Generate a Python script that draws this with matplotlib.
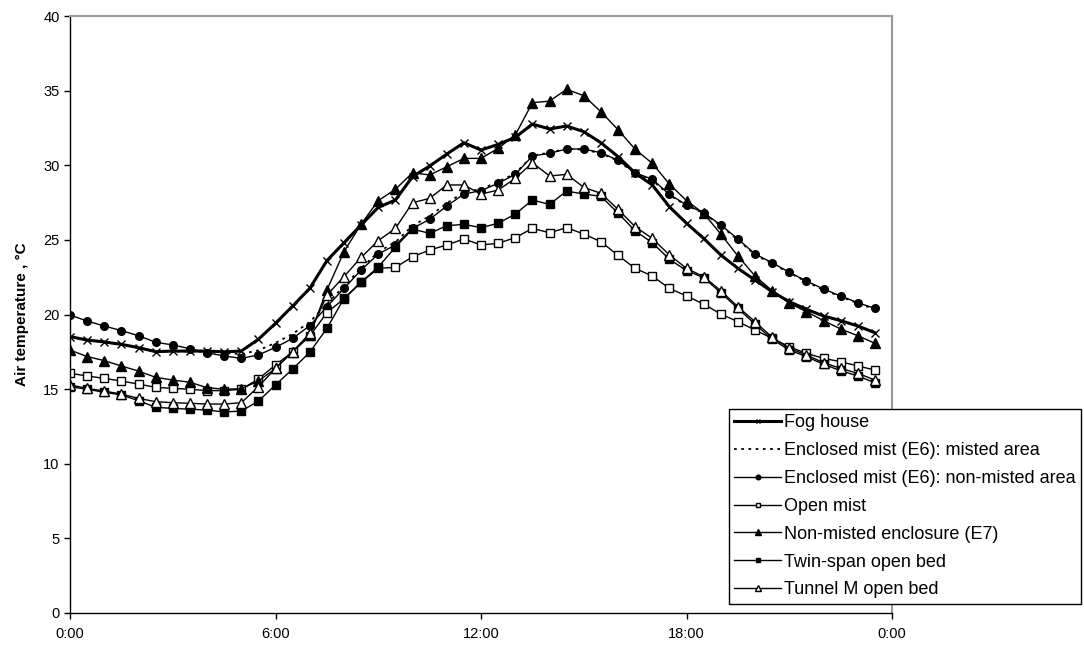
import numpy as np
import matplotlib
matplotlib.use("Agg")
import matplotlib.pyplot as plt

plt.rcParams['font.family'] = ['Liberation Sans', 'DejaVu Sans']

# half-hourly readings, 0:00 .. 23:30
hours = np.arange(0, 24, 0.5)

fog = [18.52, 18.29, 18.16, 18.0, 17.78, 17.51, 17.55, 17.55, 17.55, 17.5, 17.55, 18.34,
       19.41, 20.57, 21.75, 23.61, 24.81, 26.0, 27.18, 27.67, 29.24, 29.95, 30.75, 31.51,
       31.02, 31.4, 31.87, 32.76, 32.43, 32.63, 32.25, 31.51, 30.58, 29.48, 28.68, 27.22,
       26.11, 25.1, 23.99, 23.09, 22.31, 21.53, 20.86, 20.35, 19.9, 19.59, 19.23, 18.78]
e6_misted = [18.5, 18.3, 18.15, 17.98, 17.76, 17.52, 17.53, 17.53, 17.5, 17.42, 17.35, 17.6,
             18.1, 18.7, 19.5, 20.7, 21.9, 23.1, 24.2, 24.85, 25.95, 26.6, 27.45, 28.2,
             28.4, 28.9, 29.45, 30.65, 30.85, 31.1, 31.05, 30.8, 30.3, 29.45, 29.0, 28.0,
             27.3, 26.8, 25.95, 25.0, 24.0, 23.4, 22.8, 22.2, 21.65, 21.2, 20.75, 20.35]
e6_non_misted = [19.97, 19.56, 19.23, 18.92, 18.58, 18.14, 17.96, 17.71, 17.44, 17.22, 17.06, 17.29,
                 17.8, 18.4, 19.25, 20.52, 21.75, 22.98, 24.05, 24.66, 25.77, 26.38, 27.27, 28.07,
                 28.3, 28.79, 29.39, 30.62, 30.8, 31.09, 31.09, 30.84, 30.33, 29.5, 29.06, 28.05,
                 27.34, 26.82, 26.0, 25.06, 24.05, 23.47, 22.83, 22.24, 21.71, 21.24, 20.79, 20.41]
open_mist = [16.06, 15.88, 15.72, 15.54, 15.34, 15.12, 15.05, 14.99, 14.9, 14.9, 14.99, 15.68,
             16.62, 17.5, 18.55, 20.13, 21.05, 22.15, 23.1, 23.15, 23.87, 24.32, 24.66, 25.06,
             24.66, 24.77, 25.15, 25.77, 25.48, 25.82, 25.39, 24.88, 23.96, 23.09, 22.58, 21.75,
             21.24, 20.7, 20.03, 19.52, 18.96, 18.4, 17.84, 17.4, 17.06, 16.84, 16.55, 16.28]
e7 = [17.62, 17.18, 16.91, 16.55, 16.21, 15.79, 15.61, 15.46, 15.1, 14.99, 15.03, 15.54,
      16.39, 17.51, 18.63, 21.64, 24.21, 26.06, 27.63, 28.39, 29.5, 29.35, 29.9, 30.46,
      30.46, 31.13, 32.03, 34.19, 34.3, 35.09, 34.66, 33.59, 32.38, 31.07, 30.13, 28.74,
      27.63, 26.78, 25.39, 23.92, 22.58, 21.6, 20.75, 20.19, 19.59, 19.03, 18.58, 18.07]
twin_span = [15.16, 14.99, 14.79, 14.61, 14.23, 13.78, 13.71, 13.65, 13.6, 13.47, 13.53, 14.2,
             15.28, 16.35, 17.47, 19.07, 21.08, 22.18, 23.18, 24.52, 25.72, 25.44, 25.95, 26.04,
             25.82, 26.11, 26.73, 27.67, 27.38, 28.27, 28.07, 27.92, 26.8, 25.6, 24.81, 23.7,
             22.94, 22.47, 21.46, 20.41, 19.36, 18.34, 17.62, 17.18, 16.66, 16.24, 15.88, 15.43]
tunnel_m = [15.28, 15.05, 14.87, 14.67, 14.38, 14.16, 14.09, 14.05, 14.0, 14.0, 14.09, 15.16,
            16.39, 17.51, 18.74, 21.3, 22.54, 23.83, 24.95, 25.77, 27.49, 27.78, 28.68, 28.68,
            28.07, 28.34, 29.12, 30.17, 29.28, 29.39, 28.52, 28.12, 27.05, 25.88, 25.1, 23.99,
            23.09, 22.54, 21.6, 20.52, 19.52, 18.47, 17.73, 17.29, 16.77, 16.39, 16.06, 15.61]

tick_hours = [0, 6, 12, 18, 24]
tick_labels = ["0:00", "6:00", "12:00", "18:00", "0:00"]

fig = plt.figure(figsize=(10.84, 6.46), dpi=100)
ax = fig.add_axes([0.0646, 0.0511, 0.7583, 0.9241])

ax.plot(hours, fog, color="black", lw=2.2, marker="x", ms=6, mew=1.0, label="Fog house")
ax.plot(hours, e6_misted, color="black", lw=1.3, ls=(0, (1.5, 2.5)),
        label="Enclosed mist (E6): misted area")
ax.plot(hours, e6_non_misted, color="black", lw=1, marker="o", ms=5.5,
        label="Enclosed mist (E6): non-misted area")
ax.plot(hours, open_mist, color="black", lw=1, marker="s", ms=5.5, mfc="white", mew=1.0,
        label="Open mist")
ax.plot(hours, e7, color="black", lw=1, marker="^", ms=6.5, label="Non-misted enclosure (E7)")
ax.plot(hours, twin_span, color="black", lw=1, marker="s", ms=5.5, label="Twin-span open bed")
ax.plot(hours, tunnel_m, color="black", lw=1, marker="^", ms=6.5, mfc="white", mew=1.0,
        label="Tunnel M open bed")

ax.set_xlim(0, 24)
ax.set_ylim(0, 40)
ax.set_yticks(range(0, 41, 5))
ax.set_xticks(tick_hours)
ax.set_xticklabels(tick_labels)
ax.tick_params(axis="both", labelsize=10.5, length=4, width=1, direction="out")
ax.tick_params(axis="x", pad=6)
ax.set_ylabel("Air temperature , °C", fontsize=11, fontweight="bold", labelpad=10)

for s in ["top", "right"]:
    ax.spines[s].set_color("#999999")
    ax.spines[s].set_linewidth(1.5)
for s in ["left", "bottom"]:
    ax.spines[s].set_color("black")
    ax.spines[s].set_linewidth(1)

leg = fig.legend(loc="upper left", bbox_to_anchor=(0.6725, 0.3669), fontsize=13,
                 frameon=True, fancybox=False, edgecolor="black", framealpha=1,
                 handlelength=2.6, handletextpad=0.15, labelspacing=0.6,
                 borderpad=0.3, borderaxespad=0, markerscale=0.6)
leg.get_frame().set_linewidth(1)

fig.savefig("out.png", dpi=100)
